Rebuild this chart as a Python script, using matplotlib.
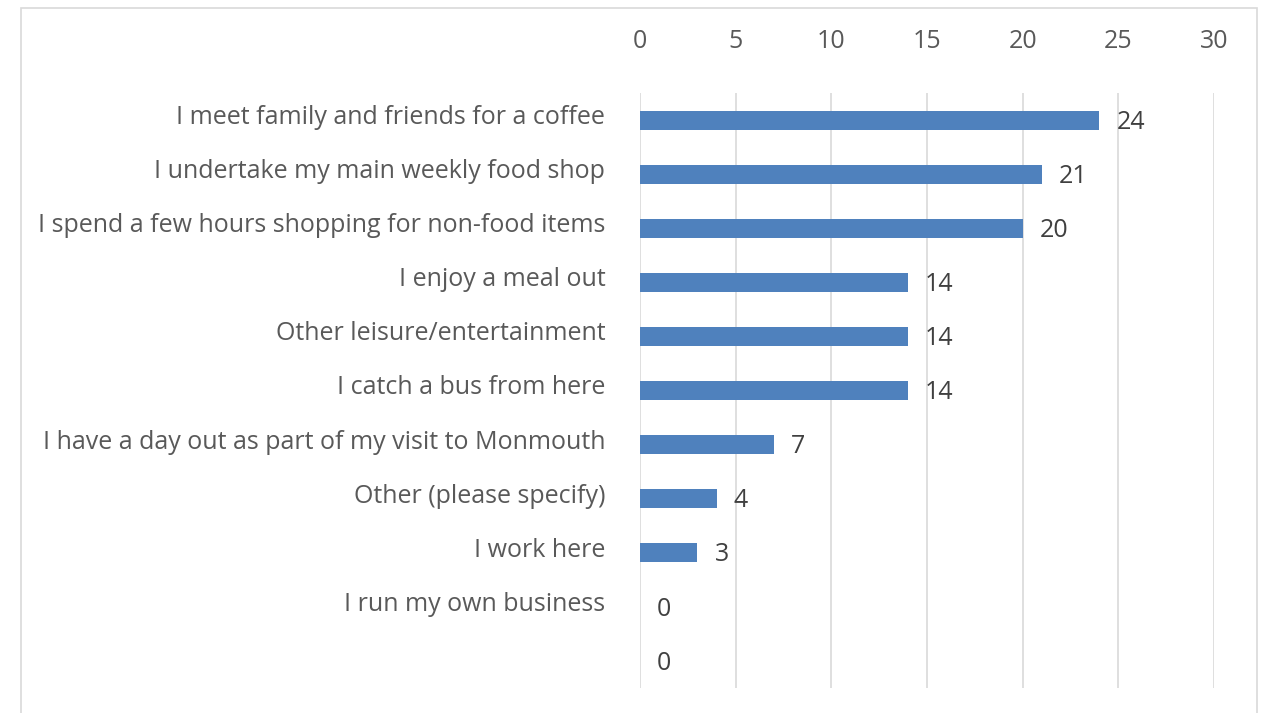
import matplotlib.pyplot as plt
import matplotlib.transforms as mtransforms
from matplotlib.patches import Rectangle

categories = [
    "I meet family and friends for a coffee",
    "I undertake my main weekly food shop",
    "I spend a few hours shopping for non-food items",
    "I enjoy a meal out",
    "Other leisure/entertainment",
    "I catch a bus from here",
    "I have a day out as part of my visit to Monmouth",
    "Other (please specify)",
    "I work here",
    "I run my own business",
    "",
]
values = [24, 21, 20, 14, 14, 14, 7, 4, 3, 0, 0]
x_ticks = [0, 5, 10, 15, 20, 25, 30]

plt.rcParams['font.family'] = ['Open Sans', 'DejaVu Sans']
text_color = "#595959"
bar_color = "#4f81bd"
grid_color = "#d9d9d9"
fs = 18

fig = plt.figure(figsize=(12.75, 7.13), dpi=100)
ax = fig.add_axes([640 / 1275, 1 - 688 / 713, (1214 - 640) / 1275, (688 - 93) / 713])

ypos = list(range(len(categories)))
ax.barh(ypos, values, height=0.35, color=bar_color, zorder=3)
for y, v in zip(ypos, values):
    ax.text(v + 0.9, y + 0.04, str(v), va="center", ha="left",
            fontsize=fs, color="#404040")

ax.set_xlim(0, 30)
ax.set_ylim(len(categories) - 0.5, -0.5)
ax.set_xticks(x_ticks)
ax.xaxis.tick_top()
ax.tick_params(axis="x", length=0, pad=28, labelsize=fs, labelcolor=text_color)
ax.set_yticks(ypos)
ax.set_yticklabels(categories)
ax.tick_params(axis="y", length=0, pad=25, labelsize=fs, labelcolor=text_color)
# excel puts category labels a little above the bar centre
offset = mtransforms.ScaledTranslation(0, 4 / 72, fig.dpi_scale_trans)
for lbl in ax.get_yticklabels():
    lbl.set_transform(lbl.get_transform() + offset)

ax.grid(axis="x", color=grid_color, linewidth=1.2, zorder=0)
for s in ax.spines.values():
    s.set_visible(False)

fig.patches.append(Rectangle((21 / 1275, -0.05), (1257 - 21) / 1275, 1.05 - 8 / 713,
                             transform=fig.transFigure, fill=False,
                             edgecolor="#d9d9d9", linewidth=1.2))

fig.savefig("out.png", dpi=100)
